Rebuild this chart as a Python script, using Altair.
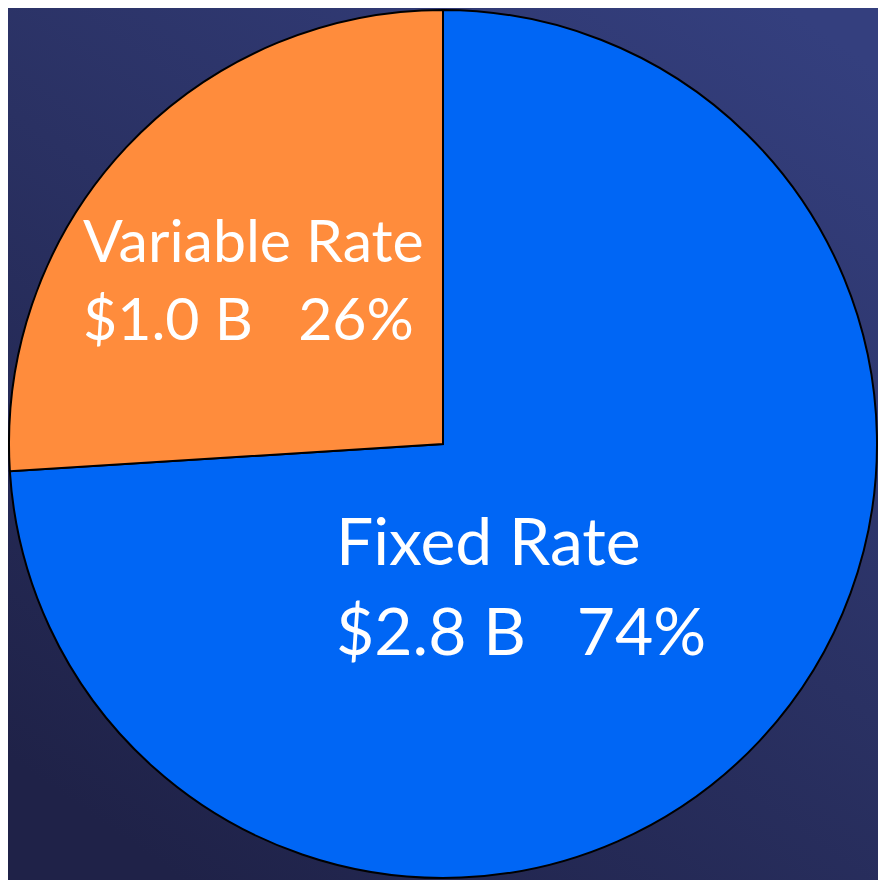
import altair as alt
import pandas as pd

categories = ["Fixed Rate", "Variable Rate"]
amounts = ["$2.8 B", "$1.0 B"]
percents = [74, 26]
colors = ["#0066f5", "#ff8c3c"]

W, H = 870, 872

df = pd.DataFrame({
    "category": categories,
    "amount": amounts,
    "percent": percents,
    "order": list(range(len(categories))),
})
df["line1"] = df["category"]
df["line2"] = df["amount"] + "\u00a0\u00a0\u00a0" + df["percent"].astype(str) + "%"

bg = alt.Chart(pd.DataFrame({"a": [0]})).mark_rect(
    fill={
        "gradient": "linear",
        "x1": 0.9, "y1": 0, "x2": 0.2, "y2": 1,
        "stops": [
            {"offset": 0, "color": "#343f7e"},
            {"offset": 0.5, "color": "#2a3163"},
            {"offset": 1, "color": "#1f2248"},
        ],
    }
).encode(x=alt.value(0), x2=alt.value(W), y=alt.value(0), y2=alt.value(H))

pie = alt.Chart(df).mark_arc(stroke="black", strokeWidth=2, radius=434).encode(
    theta=alt.Theta("percent:Q", stack=True),
    color=alt.Color("category:N", scale=alt.Scale(domain=categories, range=colors), legend=None),
    order=alt.Order("order:Q"),
)

def label(cat, x, y, size, gap):
    d = df[df["category"] == cat]
    base = alt.Chart(d).mark_text(
        font="Lato", fontSize=size, color="white", align="left", baseline="alphabetic",
        x=x, y=y,
    ).encode(text="line1:N")
    second = alt.Chart(d).mark_text(
        font="Lato", fontSize=size, color="white", align="left", baseline="alphabetic",
        x=x, y=y + gap,
    ).encode(text="line2:N")
    return base + second

chart = alt.layer(
    bg,
    pie,
    label("Fixed Rate", 328, 557, 66, 90),
    label("Variable Rate", 75, 254, 59, 78),
).properties(
    width=W, height=H, padding=0, autosize="none",
).configure_view(stroke=None)

chart.save("out.html", embed_options={"renderer": "svg", "actions": False})
